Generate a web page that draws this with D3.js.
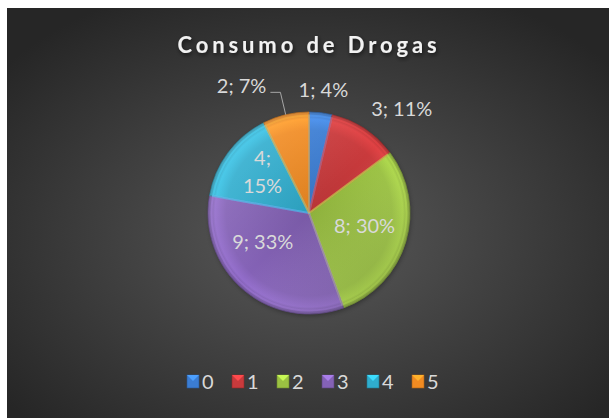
<!DOCTYPE html>
<html>
<head>
<meta charset="utf-8">
<script src="https://cdn.jsdelivr.net/npm/d3@7"></script>
<style>
  body { margin: 0; background: #fff; }
  svg { display: block; }
  text { font-family: Lato, "Open Sans", sans-serif; }
</style>
</head>
<body>
<script>
// data
var categories = ["0", "1", "2", "3", "4", "5"];
var counts = [1, 3, 8, 9, 4, 2];
var colors = ["#3b7dd3", "#c93a3c", "#9bc242", "#8462b6", "#2fadce", "#f18b22"];
var title = "Consumo de Drogas";

var width = 609, height = 418;
var cx = 309, cy = 213, radius = 101;

var total = d3.sum(counts);
var data = categories.map(function (c, i) {
  return { cat: c, count: counts[i], color: colors[i], pct: Math.round(counts[i] / total * 100) };
});

var svg = d3.select("body").append("svg")
    .attr("width", width)
    .attr("height", height);

var defs = svg.append("defs");

// chart background
var bg = defs.append("radialGradient").attr("id", "bg")
    .attr("cx", "50%").attr("cy", "55%").attr("r", "65%");
bg.append("stop").attr("offset", "0%").attr("stop-color", "#5a5a5a");
bg.append("stop").attr("offset", "100%").attr("stop-color", "#262626");

svg.append("rect")
    .attr("x", 7).attr("y", 8)
    .attr("width", width - 7).attr("height", height - 8)
    .attr("fill", "url(#bg)");

var shadow = defs.append("filter").attr("id", "shadow")
    .attr("x", "-20%").attr("y", "-20%").attr("width", "140%").attr("height", "140%");
shadow.append("feDropShadow").attr("dx", 1).attr("dy", 2).attr("stdDeviation", 2)
    .attr("flood-color", "#000").attr("flood-opacity", 0.6);

// title
svg.append("text")
    .attr("x", 309).attr("y", 53)
    .attr("text-anchor", "middle")
    .attr("fill", "#f2f2f2")
    .attr("font-size", 22)
    .attr("font-weight", "bold")
    .attr("letter-spacing", 3.9)
    .attr("filter", "url(#shadow)")
    .text(title);

// bevel gradients per slice
data.forEach(function (d, i) {
  var g = defs.append("radialGradient").attr("id", "sl" + i)
      .attr("gradientUnits", "userSpaceOnUse")
      .attr("cx", 0).attr("cy", 0).attr("r", radius);
  var c = d3.color(d.color);
  g.append("stop").attr("offset", "0%").attr("stop-color", c.darker(0.25));
  g.append("stop").attr("offset", "82%").attr("stop-color", c);
  g.append("stop").attr("offset", "93%").attr("stop-color", c.brighter(0.3));
  g.append("stop").attr("offset", "100%").attr("stop-color", c.darker(0.5));
});

var light = defs.append("linearGradient").attr("id", "light")
    .attr("x1", "0%").attr("y1", "0%").attr("x2", "100%").attr("y2", "100%");
light.append("stop").attr("offset", "0%").attr("stop-color", "#fff").attr("stop-opacity", 0.18);
light.append("stop").attr("offset", "50%").attr("stop-color", "#fff").attr("stop-opacity", 0);
light.append("stop").attr("offset", "100%").attr("stop-color", "#000").attr("stop-opacity", 0.22);

var pie = d3.pie().sort(null).value(function (d) { return d.count; });
var arcs = pie(data);
var arc = d3.arc().innerRadius(0).outerRadius(radius);

var pieG = svg.append("g").attr("transform", "translate(" + cx + "," + cy + ")");

pieG.append("circle").attr("r", radius)
    .attr("fill", "#000").attr("filter", "url(#shadow)").attr("opacity", 0.5);

pieG.selectAll("path.slice")
    .data(arcs)
  .enter().append("path")
    .attr("class", "slice")
    .attr("d", arc)
    .attr("fill", function (d, i) { return "url(#sl" + i + ")"; })
    .attr("stroke", function (d) { return d3.color(d.data.color).darker(0.8); })
    .attr("stroke-width", 0.8)
    .attr("stroke-linejoin", "round");

// inner bevel edges along radial sides
var bevel = d3.arc().innerRadius(0).outerRadius(radius - 2);
pieG.selectAll("path.bevel")
    .data(arcs)
  .enter().append("path")
    .attr("class", "bevel")
    .attr("d", bevel)
    .attr("fill", "none")
    .attr("stroke", function (d) { return d3.color(d.data.color).brighter(0.6); })
    .attr("stroke-opacity", 0.45)
    .attr("stroke-width", 2)
    .attr("transform", "scale(0.985)");

pieG.append("circle").attr("r", radius).attr("fill", "url(#light)").attr("pointer-events", "none");

// data labels
var labelColor = "#d9d9d9";
var fontSize = 20;
// small nudges to mimic the spreadsheet's best-fit placement
var nudge = { "2": [0, -4], "3": [-9, -15] };
function pos(a, r) {
  var m = (a.startAngle + a.endAngle) / 2;
  return [Math.sin(m) * r, -Math.cos(m) * r];
}

arcs.forEach(function (a, i) {
  var txt = a.data.count + "; " + a.data.pct + "%";
  var frac = a.data.count / total;
  var t;
  if (frac > 0.14) {
    var p = pos(a, 58);
    var n = nudge[a.data.cat] || [0, 0];
    p = [p[0] + n[0], p[1] + n[1]];
    t = pieG.append("text")
        .attr("x", p[0]).attr("y", p[1])
        .attr("text-anchor", "middle")
        .attr("fill", labelColor)
        .attr("font-size", fontSize);
    if (frac < 0.2) {
      t.append("tspan").attr("x", p[0]).attr("dy", "-0.65em").text(a.data.count + ";");
      t.append("tspan").attr("x", p[0]).attr("dy", "1.4em").text(a.data.pct + "%");
    } else {
      t.attr("dy", "0.35em").text(txt);
    }
  } else if (i === arcs.length - 1) {
    // leader line to the left
    var e = pos(a, radius);
    var k = pos(a, 124);
    pieG.append("polyline")
        .attr("points", [[e[0], e[1]], [k[0], k[1]], [k[0] - 10, k[1]]].map(function (q) { return q.join(","); }).join(" "))
        .attr("fill", "none").attr("stroke", "#a6a6a6").attr("stroke-width", 1);
    pieG.append("text")
        .attr("x", k[0] - 14).attr("y", k[1] + 1)
        .attr("text-anchor", "end")
        .attr("fill", labelColor)
        .attr("font-size", fontSize)
        .text(txt);
  } else {
    var q = pos(a, 124);
    var right = q[0] > 30;
    pieG.append("text")
        .attr("x", right ? q[0] - 6 : q[0]).attr("y", q[1])
        .attr("dy", "0.35em")
        .attr("text-anchor", right ? "start" : "middle")
        .attr("fill", labelColor)
        .attr("font-size", fontSize)
        .text(txt);
  }
});

// legend
var lx = d3.scalePoint().domain(categories).range([187, 412]);
var leg = svg.append("g").selectAll("g")
    .data(data)
  .enter().append("g")
    .attr("transform", function (d) { return "translate(" + lx(d.cat) + ",375)"; });

leg.append("rect")
    .attr("width", 12).attr("height", 13)
    .attr("fill", function (d) { return d.color; })
    .attr("stroke", function (d) { return d3.color(d.color).darker(1); })
    .attr("stroke-width", 0.6);
leg.append("path")
    .attr("d", "M0,0L12,0L6,6Z")
    .attr("fill", function (d) { return d3.color(d.color).brighter(0.7); });
leg.append("text")
    .attr("x", 15).attr("y", 14)
    .attr("fill", labelColor)
    .attr("font-size", fontSize)
    .text(function (d) { return d.cat; });
</script>
</body>
</html>
